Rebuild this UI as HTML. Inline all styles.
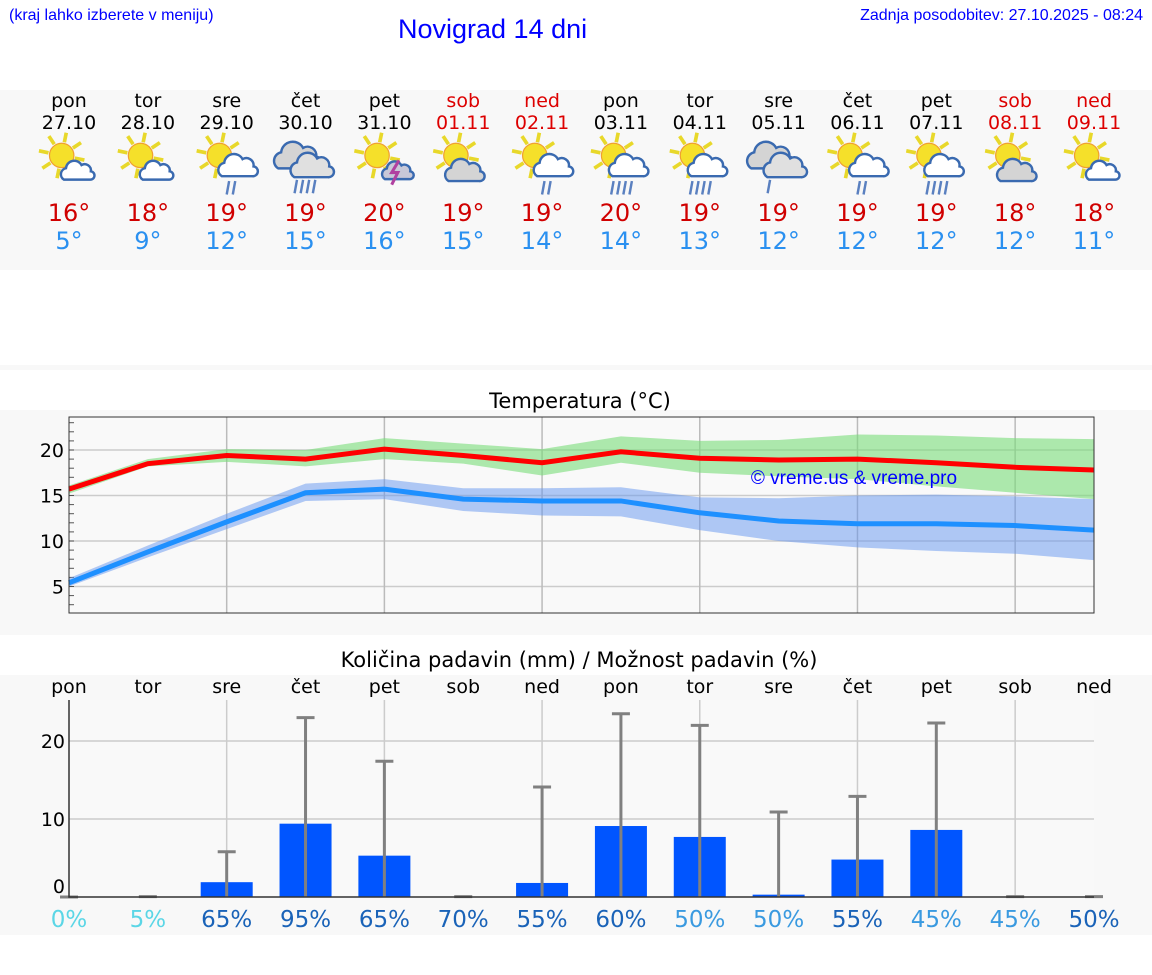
<!DOCTYPE html>
<html><head><meta charset="utf-8">
<style>
body{margin:0;width:1152px;height:975px;background:#fff;font-family:"DejaVu Sans","Liberation Sans",sans-serif;position:relative;overflow:hidden}
.abs{position:absolute}
</style></head>
<body>
<div class="abs" style="left:9px;top:7px;font-size:16px;color:#00f;font-family:'Liberation Sans',sans-serif">(kraj lahko izberete v meniju)</div>
<div class="abs" style="left:398px;top:14px;font-size:27px;color:#00f;font-family:'Liberation Sans',sans-serif">Novigrad 14 dni</div>
<div class="abs" style="right:9px;top:7px;font-size:16px;color:#00f;font-family:'Liberation Sans',sans-serif">Zadnja posodobitev: 27.10.2025 - 08:24</div>
<svg class="abs" style="left:0;top:0" width="1152" height="975">
<rect x="0" y="90" width="1152" height="180" fill="#f8f8f8"/>
<rect x="0" y="365" width="1152" height="5" fill="#f8f8f8"/>
<rect x="0" y="410" width="1152" height="225" fill="#f8f8f8"/>
<rect x="0" y="675" width="1152" height="260" fill="#f8f8f8"/>
<g id="daily"></g>
<text x="580" y="408" font-size="21" text-anchor="middle" fill="#000">Temperatura (°C)</text>
<g id="temp"></g>
<text x="579" y="667" font-size="21" text-anchor="middle" fill="#000">Količina padavin (mm) / Možnost padavin (%)</text>
<g id="prec"></g>
</svg>
<script>
const days=["pon","tor","sre","čet","pet","sob","ned","pon","tor","sre","čet","pet","sob","ned"];
const dates=["27.10","28.10","29.10","30.10","31.10","01.11","02.11","03.11","04.11","05.11","06.11","07.11","08.11","09.11"];
const hiLabels=[16,18,19,19,20,19,19,20,19,19,19,19,18,18];
const loLabels=[5,9,12,15,16,15,14,14,13,12,12,12,12,11];
const icons=["sc","sc","sr","cr","st","sg","sr","sh","sh","cr1","sr","sh","sg","sc"];
const maxT=[15.7,18.5,19.4,19.0,20.1,19.4,18.6,19.8,19.1,18.9,19.0,18.6,18.1,17.8];
const maxHi=[16.1,19.0,20.1,20.0,21.3,20.7,20.1,21.5,21.0,21.1,21.7,21.6,21.3,21.2];
const maxLo=[15.2,18.2,18.7,18.2,19.0,18.5,17.2,18.6,17.5,17.1,16.8,16.0,15.3,14.6];
const minT=[5.4,8.8,12.1,15.3,15.7,14.6,14.4,14.4,13.1,12.2,11.9,11.9,11.7,11.2];
const minHi=[5.9,9.5,13.0,16.3,16.8,15.8,15.8,15.9,14.8,14.7,15.0,15.1,14.9,14.6];
const minLo=[5.0,8.2,11.3,14.4,14.6,13.3,12.8,12.7,11.2,10.0,9.3,8.9,8.6,7.9];
const tempTicks=[5,10,15,20];
const precip=[0,0,1.9,9.4,5.3,0,1.8,9.1,7.7,0.3,4.8,8.6,0,0];
const precipMax=[0,0.05,5.8,23,17.4,0.05,14.1,23.5,22,10.9,12.9,22.3,0.05,0.05];
const probability=[0,5,65,95,65,70,55,60,50,50,55,45,45,50];
const probColor=["#5bd6e6","#5bd6e6","#1a63b8","#1a63b8","#1a63b8","#1a63b8","#1a63b8","#1a63b8","#3a9ae0","#3a9ae0","#1a63b8","#3a9ae0","#3a9ae0","#1a63b8"];
const precTicks=[0,10,20];
const NS="http://www.w3.org/2000/svg";
function mk(p,tag,a,t){const e=document.createElementNS(NS,tag);for(const k in a)e.setAttribute(k,a[k]);if(t!==undefined)e.textContent=t;p.appendChild(e);return e;}
const X0=69,X1=1094,step=(X1-X0)/13;
const xd=i=>X0+i*step;
const yT=v=>450+(20-v)*9.1;
const yP=v=>897-v*7.8;
// daily
const D=document.getElementById('daily');
function sun(g,cx,cy){for(let k=0;k<8;k++){const a=k*Math.PI/4+0.2;mk(g,'line',{x1:cx+Math.cos(a)*11,y1:cy+Math.sin(a)*11,x2:cx+Math.cos(a)*19,y2:cy+Math.sin(a)*19,stroke:'#e8d82a','stroke-width':3});}
mk(g,'circle',{cx:cx,cy:cy,r:10,fill:'#f5e02a',stroke:'#f0a030','stroke-width':1});}
function cloud(g,cx,cy,s,fill){mk(g,'path',{d:`M${cx-12*s},${cy+8*s} a${6*s},${6*s} 0 0 1 ${2*s},${-11*s} a${8*s},${8*s} 0 0 1 ${15*s},${-3*s} a${6*s},${6*s} 0 0 1 ${9*s},${6*s} a${4*s},${4*s} 0 0 1 ${-1*s},${8*s} z`,fill:fill,stroke:'#3a6ab0','stroke-width':2});}
function rain(g,cx,cy,n){for(let k=0;k<n;k++)mk(g,'line',{x1:cx+k*5+1,y1:cy,x2:cx+k*5-1,y2:cy+11,stroke:'#5a80c0','stroke-width':2});}
for(let i=0;i<14;i++){const x=xd(i);const wk=(days[i]=="sob"||days[i]=="ned");
 const t1=mk(D,'text',{x:x,y:107,'font-size':19,'text-anchor':'middle',fill:wk?'#d00':'#000'},days[i]);
 
 const t2=mk(D,'text',{x:x,y:129,'font-size':19,'text-anchor':'middle',fill:wk?'#d00':'#000'},dates[i]);
 
 const g=mk(D,'g',{transform:`translate(${x},164) scale(1.22) translate(${-x},-164)`});
 const ic=icons[i];
 if(ic[0]=='c'){cloud(g,x-8,158,1.2,'#d4d4d4');cloud(g,x+4,166,1.1,'#e0e0e0');rain(g,x-8,177,ic=='cr1'?1:4);}
 else{sun(g,x-6,157);
  if(ic=='sc')cloud(g,x+6,170,0.85,'#fff');
  if(ic=='sg')cloud(g,x,170,1.0,'#d4d4d4');
  if(ic=='sr'){cloud(g,x+8,166,1.0,'#fff');rain(g,x+1,178,2);}
  if(ic=='sh'){cloud(g,x+5,166,1.0,'#fff');rain(g,x-7,178,4);}
  if(ic=='st'){cloud(g,x+10,170,0.8,'#c8c8d8');mk(g,'path',{d:`M${x+12},${161} l-6,10 h5 l-5,10`,stroke:'#b040a0','stroke-width':2.5,fill:'none'});}
 }
 const t3=mk(D,'text',{x:x,y:221,'font-size':24,'text-anchor':'middle',fill:'#d00000'},hiLabels[i]+'°');
 
 const t4=mk(D,'text',{x:x,y:249,'font-size':24,'text-anchor':'middle',fill:'#2a90f0'},loLabels[i]+'°');
 
}
// temp chart
const T=document.getElementById('temp');
mk(T,'rect',{x:X0,y:417,width:X1-X0,height:196,fill:'#f9f9f9'});
tempTicks.forEach(v=>{mk(T,'line',{x1:X0,x2:X1,y1:yT(v),y2:yT(v),stroke:'#ccc','stroke-width':1.5});
 const t=mk(T,'text',{x:X0-5,y:yT(v)+7,'font-size':19,'text-anchor':'end'},v);});
for(let v=3;v<=23;v++)mk(T,'line',{x1:X0,x2:X0+5,y1:yT(v),y2:yT(v),stroke:'#555'});
for(let i=2;i<13;i+=2)mk(T,'line',{x1:xd(i),x2:xd(i),y1:417,y2:613,stroke:'#bbb','stroke-width':1.5});
function band(hi,lo,col,name){let d='M'+hi.map((v,i)=>xd(i)+','+yT(v)).join(' L')+' L'+lo.map((v,i)=>xd(i)+','+yT(v)).reverse().join(' L')+'Z';const p=mk(T,'path',{d:d,fill:col});}
function line(vals,col,name){const p=mk(T,'polyline',{points:vals.map((v,i)=>xd(i)+','+yT(v)).join(' '),fill:'none',stroke:col,'stroke-width':5});}
band(maxHi,maxLo,'rgba(120,220,120,0.6)','max-temp-range');
band(minHi,minLo,'rgba(100,150,240,0.5)','min-temp-range');
line(maxT,'#ff0000','max-temp-line');line(minT,'#1e90ff','min-temp-line');
const wm=mk(T,'text',{x:854,y:484,'font-size':19,'text-anchor':'middle',fill:'#0000ff','font-family':'Liberation Sans, sans-serif'},'© vreme.us & vreme.pro');
mk(T,'rect',{x:X0,y:417,width:X1-X0,height:196,fill:'none',stroke:'#333','stroke-width':1});
// precip
const P=document.getElementById('prec');
mk(P,'rect',{x:X0,y:700,width:X1-X0,height:197,fill:'#f9f9f9'});
precTicks.forEach(v=>{if(v>0)mk(P,'line',{x1:X0,x2:X1,y1:yP(v),y2:yP(v),stroke:'#ccc','stroke-width':1.5});
 const t=mk(P,'text',{x:X0-4,y:yP(v)+(v==0?-4:7),'font-size':19,'text-anchor':'end'},v);});
for(let i=2;i<13;i+=2)mk(P,'line',{x1:xd(i),x2:xd(i),y1:700,y2:897,stroke:'#ccc','stroke-width':1.5});
for(let i=0;i<14;i++){const x=xd(i);
 const dn=mk(P,'text',{x:x,y:693,'font-size':19,'text-anchor':'middle'},days[i]);
 if(precip[i]>0){const b=mk(P,'rect',{x:x-26,y:yP(precip[i]),width:52,height:yP(0)-yP(precip[i]),fill:'#0055ff'});}
 const e=mk(P,'line',{x1:x,x2:x,y1:yP(precipMax[i]),y2:yP(0),stroke:'#808080','stroke-width':3});
 mk(P,'line',{x1:x-9,x2:x+9,y1:yP(precipMax[i]),y2:yP(precipMax[i]),stroke:'#808080','stroke-width':3});
 const pt=mk(P,'text',{x:x,y:927,'font-size':23,'text-anchor':'middle',fill:probColor[i]},probability[i]+'%');
}
mk(P,'polyline',{points:`${X0},700 ${X0},897 ${X1},897`,fill:'none',stroke:'#333','stroke-width':1.5});
</script>
</body></html>
